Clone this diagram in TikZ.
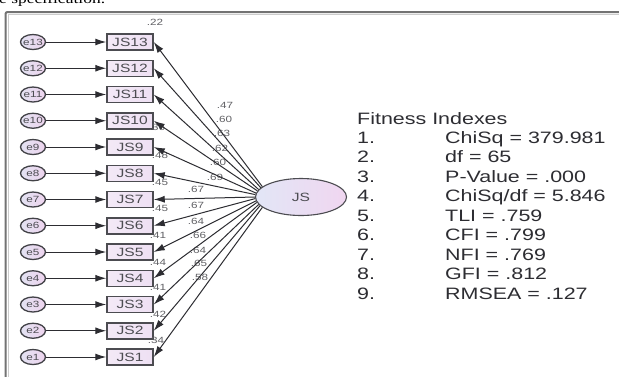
\documentclass[tikz,border=0pt]{standalone}
\usepackage{fontspec}
\setmainfont{Liberation Serif}
\newfontfamily\diag[FakeStretch=1.3]{Liberation Sans}
\newfontfamily\capt[FakeStretch=1.25]{Liberation Serif}
\usetikzlibrary{arrows.meta,shapes.geometric,calc}

\definecolor{boxfill}{RGB}{238,224,243}
\definecolor{latleft}{RGB}{226,230,246}
\definecolor{latright}{RGB}{240,214,240}
\definecolor{errleft}{RGB}{226,226,242}
\definecolor{errright}{RGB}{238,212,238}
\definecolor{ink}{RGB}{45,45,50}

\tikzset{
  errnode/.style={ellipse, draw=ink!90, line width=1.3pt, minimum width=25pt,
    minimum height=15pt, inner sep=-1pt, left color=errleft, right color=errright,
    text=ink!85, font=\diag\fontsize{9}{9}\selectfont},
  obsbox/.style={rectangle, draw=ink!85, line width=1.5pt, minimum width=46pt,
    minimum height=16pt, inner sep=0pt, left color=boxfill!70!white, right color=boxfill,
    text=ink!85, font=\diag\fontsize{12}{12}\selectfont},
  latent/.style={ellipse, draw=ink!85, line width=1.1pt, minimum width=91pt,
    minimum height=37pt, inner sep=0pt, left color=latleft, right color=latright,
    text=ink!85, font=\diag\fontsize{12}{12}\selectfont},
  arr/.style={draw=ink, line width=1pt, -{Latex[length=11pt,width=7pt]}},
  coef/.style={inner sep=0pt, text=ink!75, font=\diag\fontsize{9}{9}\selectfont},
  stat/.style={inner sep=0pt, anchor=base west, text=ink,
    font=\diag\fontsize{16.5}{16.5}\selectfont}
}

\begin{document}
\begin{tikzpicture}[x=1pt,y=-1pt]
\useasboundingbox (0,0) rectangle (619,376);
\clip (0,0) rectangle (619,376);
\fill[white] (0,0) rectangle (619,376);

% caption line running above the figure, only its lower edge in view
\node[anchor=base west, inner sep=0pt, font=\capt\fontsize{14}{14}\selectfont] (cap) at (-1,3) {e specification.};

% figure frame
\draw[line width=2pt, black!55, rounded corners=2pt] (5.5,400) -- (5.5,12) -- (640,12);
\draw[line width=1pt, black!20] (8,400) -- (8,14.5) -- (640,14.5);

% latent factor
\node[latent] (JS) at (301,197) {JS};

% observed items and their error terms
\foreach \k in {1,...,13}{
  \pgfmathsetmacro{\yy}{357-(\k-1)*26.25}
  \node[errnode] (e\k) at (33,\yy) {e\k};
  \node[obsbox] (js\k) at (130,\yy) {JS\k};
}

% squared multiple correlations
\foreach \k/\v/\lx/\ly in {13/.22/155/22, 9/.36/157/127, 8/.48/160/155, 7/.45/160/182,
  6/.45/160/208, 5/.41/158/235, 4/.44/158/262, 3/.41/158/287, 2/.42/158/314, 1/.34/156/340}{
  \node[coef] (r\k) at (\lx,\ly) {\v};
}

% factor loadings
\foreach \k/\v/\lx/\ly in {13/.47/225/105, 12/.60/224/119, 11/.63/222/133, 10/.62/220/148,
  9/.60/218/162, 8/.69/215/177, 7/.67/196/189, 6/.67/196/205, 5/.64/196/221,
  4/.66/198/235, 3/.64/198/250, 2/.65/199/263, 1/.58/200/277}{
  \node[coef] (l\k) at (\lx,\ly) {\v};
}

% paths
\foreach \k in {1,...,13}{
  \pgfmathsetmacro{\ang}{180-(\k-7)*2.5}
  \draw[arr] (e\k) -- (js\k);
  \draw[arr] (JS.\ang) -- (js\k.east);
}

% fit statistics
\node[stat] (fit) at (357,124) {Fitness Indexes};
\foreach \i/\t in {1/{ChiSq = 379.981}, 2/{df = 65}, 3/{P-Value = .000},
  4/{ChiSq/df = 5.846}, 5/{TLI = .759}, 6/{CFI = .799}, 7/{NFI = .769},
  8/{GFI = .812}, 9/{RMSEA = .127}}{
  \pgfmathsetmacro{\yb}{143+(\i-1)*19.5}
  \node[stat] (n\i) at (357,\yb) {\i.};
  \node[stat] (v\i) at (445,\yb) {\t};
}
\end{tikzpicture}
\end{document}
